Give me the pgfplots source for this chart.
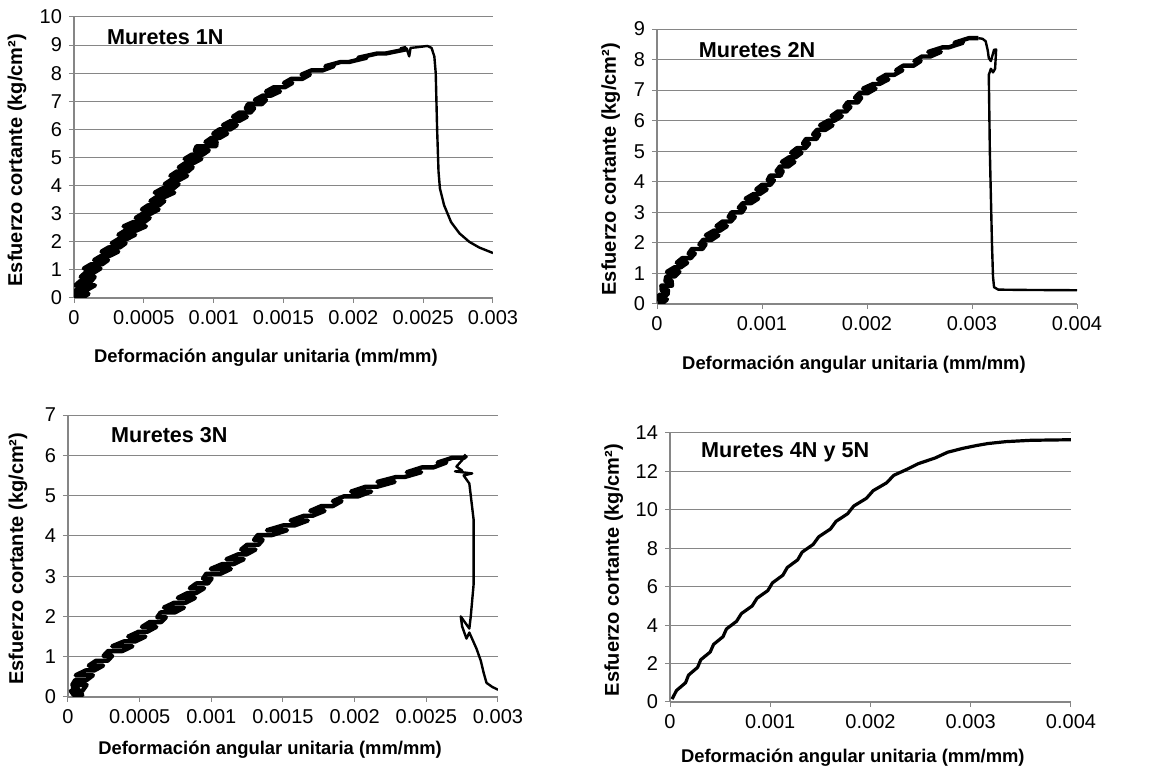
\documentclass[border=0pt]{standalone}
\usepackage{pgfplots}
\pgfplotsset{compat=1.18}
\usepackage{fontspec}
\setmainfont{Liberation Sans}
\definecolor{gridgray}{RGB}{134,134,134}

\pgfplotsset{
  mur/.style={
    scale only axis, anchor=south west,
    axis x line*=bottom, axis y line*=left,
    axis line style={gridgray, line width=0.6pt},
    ymajorgrids, grid style={gridgray, line width=0.5pt},
    tick align=outside, major tick length=2.5pt,
    tick style={gridgray, line width=0.5pt},
    tick label style={font=\fontsize{10}{11}\selectfont},
    xlabel style={font=\bfseries\fontsize{9.2}{10}\selectfont},
    ylabel style={font=\bfseries\fontsize{10}{11}\selectfont},
    xlabel={Deformación angular unitaria (mm/mm)},
    ylabel={Esfuerzo cortante (kg/cm²)},
    /pgf/number format/assume math mode=true,
    scaled x ticks=false,
    xmin=0, ymin=0,
  },
  curve/.style={black, line width=1.2pt, line join=round, no marks},
  noisy/.style={black, line width=2.2pt, line join=round, no marks},
}
\tikzset{ttl/.style={anchor=west, font=\bfseries\fontsize{10.8}{12}\selectfont}}

\begin{document}
\begin{tikzpicture}
\useasboundingbox (0,0) rectangle (584pt,385.5pt);

% ---- Muretes 1N
\begin{axis}[mur, at={(37pt,236.5pt)}, width=209.5pt, height=140.5pt,
  xmax=0.003, ymax=10,
  xtick={0,0.0005,0.001,0.0015,0.002,0.0025,0.003},
  xticklabels={0,0.0005,0.001,0.0015,0.002,0.0025,0.003},
  ytick={0,1,...,10},
  xlabel style={at={(axis description cs:0.458,-0.214)}, anchor=center},
  ylabel style={at={(axis description cs:-0.136,0.49)}, anchor=center}]
\addplot[noisy] coordinates {
(0,0) (0.00006,0) (0.000104,0.15) (0.000005,0.15) (0.000017,0.3) (0.000097,0.3)
(0.00015,0.45) (0.00001,0.45) (0.000044,0.6) (0.000124,0.6) (0.000148,0.75) (0.000048,0.75)
(0.000081,0.9) (0.000141,0.9) (0.00019,1.05) (0.00007,1.05) (0.000122,1.2) (0.000202,1.2)
(0.000244,1.35) (0.000144,1.35) (0.000195,1.5) (0.000255,1.5) (0.000317,1.65) (0.000197,1.65)
(0.000248,1.8) (0.000328,1.8) (0.00037,1.95) (0.00027,1.95) (0.000319,2.1) (0.000379,2.1)
(0.000438,2.25) (0.000318,2.25) (0.000366,2.4) (0.000446,2.4) (0.000515,2.55) (0.000355,2.55)
(0.000423,2.7) (0.000503,2.7) (0.000542,2.85) (0.000442,2.85) (0.00049,3.0) (0.00055,3.0)
(0.000606,3.15) (0.000486,3.15) (0.000531,3.3) (0.000611,3.3) (0.000647,3.45) (0.000547,3.45)
(0.000592,3.6) (0.000652,3.6) (0.000718,3.75) (0.000578,3.75) (0.000633,3.9) (0.000713,3.9)
(0.000749,4.05) (0.000649,4.05) (0.000694,4.2) (0.000754,4.2) (0.00081,4.35) (0.00069,4.35)
(0.000735,4.5) (0.000815,4.5) (0.00085,4.65) (0.00075,4.65) (0.000796,4.8) (0.000856,4.8)
(0.000912,4.95) (0.000792,4.95) (0.000842,5.1) (0.000922,5.1) (0.000965,5.25) (0.000865,5.25)
(0.000878,5.4) (0.001018,5.4) (0.001021,5.55) (0.000941,5.55) (0.000984,5.7) (0.001044,5.7)
(0.001097,5.85) (0.000997,5.85) (0.00104,6.0) (0.00112,6.0) (0.001166,6.15) (0.001066,6.15)
(0.001122,6.3) (0.001182,6.3) (0.001238,6.45) (0.001138,6.45) (0.001184,6.6) (0.001264,6.6)
(0.00129,6.75) (0.00123,6.75) (0.001246,6.9) (0.001346,6.9) (0.001375,7.05) (0.001295,7.05)
(0.00135,7.2) (0.00141,7.2) (0.001475,7.35) (0.001375,7.35) (0.00143,7.5) (0.00151,7.5)
(0.001563,7.65) (0.001503,7.65) (0.001556,7.8) (0.001636,7.8) (0.001689,7.95) (0.001629,7.95)
(0.0017,8.1) (0.00178,8.1) (0.00186,8.25) (0.0018,8.25) (0.00191,8.4) (0.00197,8.4)
(0.002095,8.55) (0.002035,8.55) (0.00217,8.7) (0.00223,8.7) (0.00238,8.85) (0.00234,8.85)
(0.00238,8.9)};
\addplot[curve] coordinates {
(0.00238,8.9) (0.0024,8.6) (0.00241,8.9) (0.00245,8.92) (0.0025,8.95)
(0.00253,8.97) (0.00256,8.9) (0.00258,8.6) (0.00259,8.0) (0.0026,6)
(0.00261,4.5) (0.00262,3.9) (0.00265,3.3) (0.0027,2.7) (0.00276,2.3)
(0.00283,2.0) (0.0029,1.8) (0.003,1.6)};
\node[ttl] at (rel axis cs:0.062,0.929) {Muretes 1N};
\end{axis}

% ---- Muretes 2N
\begin{axis}[mur, at={(328.5pt,233.5pt)}, width=210pt, height=137.5pt,
  xmax=0.004, ymax=9,
  xtick={0,0.001,0.002,0.003,0.004},
  xticklabels={0,0.001,0.002,0.003,0.004},
  ytick={0,1,...,9},
  xlabel style={at={(axis description cs:0.469,-0.222)}, anchor=center},
  ylabel style={at={(axis description cs:-0.11,0.49)}, anchor=center}]
\addplot[noisy] coordinates {
(0.000005,0.05) (0.00006,0.05) (0.000095,0.15) (0.00001,0.15) (0.00002,0.3) (0.0001,0.3)
(0.000105,0.45) (0.000045,0.45) (0.000042,0.6) (0.000142,0.6) (0.00014,0.75) (0.00008,0.75)
(0.000088,0.9) (0.000168,0.9) (0.000214,1.05) (0.000094,1.05) (0.000166,1.2) (0.000226,1.2)
(0.000288,1.35) (0.000188,1.35) (0.00024,1.5) (0.00032,1.5) (0.000361,1.65) (0.000301,1.65)
(0.000332,1.8) (0.000432,1.8) (0.000463,1.95) (0.000403,1.95) (0.00044,2.1) (0.00052,2.1)
(0.000585,2.25) (0.000465,2.25) (0.00054,2.4) (0.0006,2.4) (0.000666,2.55) (0.000566,2.55)
(0.000624,2.7) (0.000704,2.7) (0.000742,2.85) (0.000682,2.85) (0.00071,3.0) (0.00081,3.0)
(0.000838,3.15) (0.000778,3.15) (0.000816,3.3) (0.000896,3.3) (0.000964,3.45) (0.000844,3.45)
(0.00092,3.6) (0.00098,3.6) (0.001045,3.75) (0.000945,3.75) (0.001,3.9) (0.00108,3.9)
(0.001114,4.05) (0.001054,4.05) (0.001076,4.2) (0.001176,4.2) (0.001198,4.35) (0.001138,4.35)
(0.00117,4.5) (0.00125,4.5) (0.001309,4.65) (0.001189,4.65) (0.001258,4.8) (0.001318,4.8)
(0.001377,4.95) (0.001277,4.95) (0.001332,5.1) (0.001412,5.1) (0.00145,5.25) (0.00139,5.25)
(0.001418,5.4) (0.001518,5.4) (0.001546,5.55) (0.001486,5.55) (0.001524,5.7) (0.001604,5.7)
(0.001672,5.85) (0.001552,5.85) (0.00163,6.0) (0.00169,6.0) (0.001761,6.15) (0.001661,6.15)
(0.001722,6.3) (0.001802,6.3) (0.001843,6.45) (0.001783,6.45) (0.001814,6.6) (0.001914,6.6)
(0.001945,6.75) (0.001885,6.75) (0.001926,6.9) (0.002006,6.9) (0.002082,7.05) (0.001962,7.05)
(0.002058,7.2) (0.002118,7.2) (0.002204,7.35) (0.002104,7.35) (0.00218,7.5) (0.00226,7.5)
(0.002337,7.65) (0.002277,7.65) (0.002344,7.8) (0.002444,7.8) (0.002511,7.95) (0.002451,7.95)
(0.002523,8.1) (0.002603,8.1) (0.002703,8.25) (0.002583,8.25) (0.00272,8.4) (0.00278,8.4)
(0.002913,8.55) (0.002833,8.55) (0.00297,8.7) (0.00306,8.7)};
\addplot[curve] coordinates {
(0.00306,8.7) (0.0031,8.68) (0.00313,8.6) (0.00315,8.3) (0.00316,8.05) (0.00318,7.95)
(0.00321,8.32) (0.00323,8.33) (0.00322,7.7) (0.0032,7.58) (0.00318,7.7) (0.00316,7.5)
(0.00317,5) (0.00319,2) (0.0032,0.9) (0.00321,0.55) (0.00325,0.47)
(0.0035,0.46) (0.004,0.45)};
\node[ttl] at (rel axis cs:0.083,0.924) {Muretes 2N};
\end{axis}

% ---- Muretes 3N
\begin{axis}[mur, at={(34pt,37pt)}, width=215pt, height=141pt,
  xmax=0.003, ymax=7,
  xtick={0,0.0005,0.001,0.0015,0.002,0.0025,0.003},
  xticklabels={0,0.0005,0.001,0.0015,0.002,0.0025,0.003},
  ytick={0,1,...,7},
  xlabel style={at={(axis description cs:0.47,-0.188)}, anchor=center},
  ylabel style={at={(axis description cs:-0.116,0.49)}, anchor=center}]
\addplot[noisy] coordinates {
(0.00002,0.25) (0.00006,0.25) (0.0001,0.05) (0.00004,0.05) (0.00002,0.15) (0.0001,0.15)
(0.00013,0.3) (0.00003,0.3) (0.00005,0.42) (0.00013,0.42) (0.000174,0.54) (0.000054,0.54)
(0.000124,0.66) (0.000184,0.66) (0.000245,0.78) (0.000145,0.78) (0.000196,0.9) (0.000276,0.9)
(0.000308,1.02) (0.000248,1.02) (0.000279,1.14) (0.000379,1.14) (0.000449,1.26) (0.000309,1.26)
(0.00039,1.38) (0.00047,1.38) (0.00054,1.5) (0.00042,1.5) (0.000493,1.62) (0.000553,1.62)
(0.000616,1.74) (0.000516,1.74) (0.00057,1.86) (0.00065,1.86) (0.000683,1.98) (0.000623,1.98)
(0.000646,2.1) (0.000746,2.1) (0.000809,2.22) (0.000669,2.22) (0.000741,2.34) (0.000821,2.34)
(0.000886,2.46) (0.000766,2.46) (0.000834,2.58) (0.000894,2.58) (0.00095,2.7) (0.00085,2.7)
(0.000896,2.82) (0.000976,2.82) (0.001002,2.94) (0.000942,2.94) (0.000965,3.06) (0.001065,3.06)
(0.001136,3.18) (0.000996,3.18) (0.001076,3.3) (0.001156,3.3) (0.001226,3.42) (0.001106,3.42)
(0.001186,3.54) (0.001246,3.54) (0.001308,3.66) (0.001208,3.66) (0.00125,3.78) (0.00133,3.78)
(0.001358,3.9) (0.001298,3.9) (0.001324,4.02) (0.001424,4.02) (0.001528,4.14) (0.001388,4.14)
(0.001502,4.26) (0.001582,4.26) (0.001673,4.38) (0.001553,4.38) (0.001647,4.5) (0.001707,4.5)
(0.00179,4.62) (0.00169,4.62) (0.001768,4.74) (0.001848,4.74) (0.001908,4.86) (0.001848,4.86)
(0.001924,4.98) (0.002024,4.98) (0.002115,5.1) (0.001975,5.1) (0.002077,5.22) (0.002157,5.22)
(0.002279,5.34) (0.002159,5.34) (0.002288,5.46) (0.002348,5.46) (0.002464,5.58) (0.002364,5.58)
(0.00247,5.7) (0.00255,5.7) (0.002639,5.82) (0.002579,5.82) (0.002683,5.94) (0.002763,5.94)
(0.00278,6.0)};
\addplot[curve] coordinates {
(0.00278,6.0) (0.00271,5.72) (0.00275,5.62) (0.0027,5.6)
(0.00282,5.55) (0.00276,5.5) (0.0028,5.3) (0.00283,4.4) (0.00283,2.8)
(0.00281,2.0) (0.0028,1.7) (0.00274,2.0) (0.00275,1.75) (0.00278,1.45)
(0.0028,1.6) (0.00285,1.2) (0.00288,0.9) (0.0029,0.6) (0.00292,0.35)
(0.00296,0.25) (0.003,0.18)};
\node[ttl] at (rel axis cs:0.084,0.929) {Muretes 3N};
\end{axis}

% ---- Muretes 4N y 5N
\begin{axis}[mur, at={(335pt,34.5pt)}, width=200.5pt, height=134.5pt,
  xmax=0.004, ymax=14,
  xtick={0,0.001,0.002,0.003,0.004},
  xticklabels={0,0.001,0.002,0.003,0.004},
  ytick={0,2,...,14},
  xlabel style={at={(axis description cs:0.456,-0.208)}, anchor=center},
  ylabel style={at={(axis description cs:-0.14,0.49)}, anchor=center}]
\addplot[curve, line width=1.6pt] coordinates {
(0.00002,0.15) (0.000065,0.6) (0.000155,1.0) (0.000185,1.4) (0.000275,1.8)
(0.000307,2.2) (0.000401,2.6) (0.000435,3.0) (0.000529,3.4) (0.000563,3.8)
(0.000664,4.2) (0.000712,4.6) (0.00082,5.0) (0.000868,5.4) (0.000976,5.8)
(0.001022,6.2) (0.001126,6.6) (0.00117,7.0) (0.001274,7.4) (0.001318,7.8)
(0.001428,8.2) (0.001484,8.6) (0.0016,9.0) (0.001656,9.4) (0.001772,9.8)
(0.001833,10.2) (0.001959,10.6) (0.002027,11.0) (0.002159,11.4) (0.002233,11.8)
(0.00236,12.1) (0.002475,12.4) (0.002645,12.7) (0.00277,13.0) (0.00292,13.2)
(0.00306,13.35) (0.00317,13.45) (0.00335,13.55) (0.0036,13.62) (0.004,13.65)};
\node[ttl] at (rel axis cs:0.06,0.929) {Muretes 4N y 5N};
\end{axis}
\end{tikzpicture}
\end{document}
